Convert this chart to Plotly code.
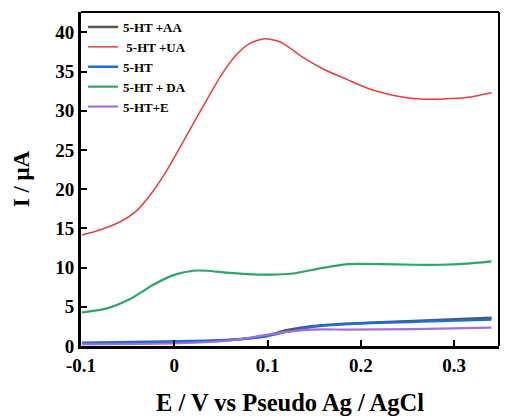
import plotly.graph_objects as go

# Red: 5-HT + UA
x_ua = [-0.099, -0.080, -0.058, -0.040, -0.023, -0.008, 0.006, 0.020, 0.033, 0.049, 0.067, 0.081, 0.097,
        0.113, 0.124, 0.138, 0.160, 0.185, 0.210, 0.238, 0.263, 0.288, 0.317, 0.328, 0.340]
y_ua = [14.15, 14.8, 15.85, 17.3, 19.7, 22.4, 25.3, 28.3, 31.0, 34.3, 37.2, 38.6, 39.2,
        38.8, 38.0, 36.8, 35.3, 34.0, 32.75, 31.9, 31.5, 31.5, 31.75, 32.0, 32.3]

# Green: 5-HT + DA
x_da = [-0.099, -0.072, -0.048, -0.023, -0.001, 0.020, 0.035, 0.056, 0.078, 0.103, 0.127, 0.156,
        0.185, 0.220, 0.256, 0.285, 0.313, 0.340]
y_da = [4.28, 4.8, 5.95, 7.77, 9.04, 9.6, 9.6, 9.35, 9.17, 9.1, 9.25, 9.9,
        10.45, 10.45, 10.36, 10.36, 10.5, 10.8]

# Blue: 5-HT
x_ht = [-0.099, 0.006, 0.060, 0.095, 0.120, 0.149, 0.185, 0.256, 0.340]
y_ht = [0.4, 0.6, 0.8, 1.17, 1.8, 2.45, 2.8, 3.08, 3.38]

# Gray: 5-HT + AA
x_aa = [-0.099, 0.006, 0.060, 0.095, 0.120, 0.149, 0.185, 0.256, 0.340]
y_aa = [0.3, 0.5, 0.75, 1.2, 2.0, 2.55, 2.85, 3.2, 3.6]

# Purple: 5-HT + E
x_e = [-0.099, 0.006, 0.060, 0.095, 0.120, 0.149, 0.185, 0.256, 0.340]
y_e = [0.2, 0.35, 0.7, 1.35, 1.8, 2.1, 2.1, 2.15, 2.35]

x_ticks = [-0.1, 0, 0.1, 0.2, 0.3]
x_tick_labels = ["-0.1", "0", "0.1", "0.2", "0.3"]
y_ticks = [0, 5, 10, 15, 20, 25, 30, 35, 40]

FONT = "Liberation Serif"

fig = go.Figure()
series = [
    ("5-HT +AA", x_aa, y_aa, "#555555", 2.5),
    (" 5-HT +UA", x_ua, y_ua, "#ee3b3b", 1.5),
    ("5-HT", x_ht, y_ht, "#1f6cd8", 2.5),
    ("5-HT + DA", x_da, y_da, "#2ca66a", 2.2),
    ("5-HT+E", x_e, y_e, "#a66ee0", 2.2),
]
for name, xs, ys, col, w in series:
    fig.add_trace(go.Scatter(x=xs, y=ys, mode="lines", name=name,
                             line=dict(color=col, width=w, shape="spline", smoothing=0.6)))

fig.update_layout(
    width=505, height=417,
    margin=dict(l=81, r=6, t=12, b=71, autoexpand=False),
    plot_bgcolor="white", paper_bgcolor="white",
    showlegend=True,
    legend=dict(x=0.005, y=1.0, xanchor="left", yanchor="top",
                bgcolor="rgba(0,0,0,0)", tracegroupgap=0,
                font=dict(family=FONT, size=13, color="black", weight="bold"),
                itemwidth=30),
    font=dict(family=FONT, color="black"),
)
fig.update_xaxes(
    range=[-0.1, 0.348], tickvals=x_ticks, ticktext=x_tick_labels,
    ticks="inside", ticklen=6, tickwidth=2, tickcolor="black",
    showline=True, linecolor="black", linewidth=3, mirror=False,
    showgrid=False, zeroline=False, automargin=False,
    tickfont=dict(family=FONT, size=19, color="black", weight="bold"),
    title=dict(text="E / V vs Pseudo Ag / AgCl", standoff=20,
               font=dict(family=FONT, size=24.5, color="black", weight="bold")),
)
fig.update_yaxes(
    range=[0, 42.6], tickvals=y_ticks,
    ticks="inside", ticklen=6, tickwidth=2, tickcolor="black",
    showline=True, linecolor="black", linewidth=3, mirror=False,
    showgrid=False, zeroline=False, automargin=False,
    tickfont=dict(family=FONT, size=19, color="black", weight="bold"),
    title=dict(text="I / μA", standoff=20,
               font=dict(family=FONT, size=23, color="black", weight="bold")),
)
fig.add_shape(type="line", xref="paper", yref="paper", x0=0, x1=1, y0=1, y1=1,
              line=dict(color="black", width=2))
fig.add_shape(type="line", xref="paper", yref="paper", x0=1, x1=1, y0=0, y1=1,
              line=dict(color="black", width=2))

fig.write_html("out.html")
